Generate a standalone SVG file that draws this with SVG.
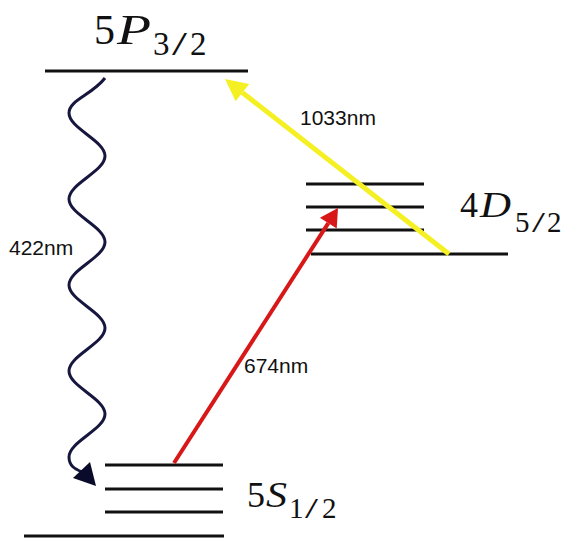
<svg xmlns="http://www.w3.org/2000/svg" width="564" height="538" viewBox="0 0 564 538">
<style>
.lvl{stroke:#111;stroke-width:3;fill:none}
.tex{font-family:"Liberation Serif","Times New Roman",serif;fill:#111}
.it{font-style:italic}
.nm{font-family:"Liberation Sans",Arial,sans-serif;font-size:21px;fill:#111}
</style>
<rect width="564" height="538" fill="#fff"/>
<g id="level-5P">
<line class="lvl" x1="45" y1="71" x2="248" y2="71"/>
<text class="tex" font-size="42"><tspan x="94" y="44">5</tspan><tspan class="it" x="117" y="44" textLength="34" lengthAdjust="spacingAndGlyphs">P</tspan></text>
<text class="tex" font-size="33"><tspan x="153" y="55">3</tspan><tspan x="172" y="55" textLength="15" lengthAdjust="spacingAndGlyphs">/</tspan><tspan x="190" y="55">2</tspan></text>
</g>
<g id="level-4D">
<line class="lvl" x1="306" y1="184" x2="424" y2="184"/>
<line class="lvl" x1="306" y1="207" x2="424" y2="207"/>
<line class="lvl" x1="306" y1="230" x2="424" y2="230"/>
<line class="lvl" x1="311" y1="254" x2="508" y2="254"/>
<text class="tex" font-size="36"><tspan x="460" y="217">4</tspan><tspan class="it" x="480" y="217" textLength="31" lengthAdjust="spacingAndGlyphs">D</tspan></text>
<text class="tex" font-size="29"><tspan x="515" y="232">5</tspan><tspan x="532" y="232" textLength="13" lengthAdjust="spacingAndGlyphs">/</tspan><tspan x="547" y="232">2</tspan></text>
</g>
<g id="level-5S">
<line class="lvl" x1="105" y1="465" x2="223" y2="465"/>
<line class="lvl" x1="105" y1="489" x2="223" y2="489"/>
<line class="lvl" x1="105" y1="512" x2="223" y2="512"/>
<line class="lvl" x1="24" y1="536" x2="224" y2="536"/>
<text class="tex" font-size="36"><tspan x="247" y="507">5</tspan><tspan class="it" x="266" y="507" textLength="21" lengthAdjust="spacingAndGlyphs">S</tspan></text>
<text class="tex" font-size="29"><tspan x="289" y="518">1</tspan><tspan x="305" y="518" textLength="13" lengthAdjust="spacingAndGlyphs">/</tspan><tspan x="322" y="518">2</tspan></text>
</g>
<g id="connectors">
<g id="decay-422">
<path d="M105,78 C92,95 69,100 69,113 C69,128.5 105,140.5 105,156 S69,183.5 69,199 S105,226.5 105,242 S69,269.5 69,285 S105,312.5 105,328 S69,355.5 69,371 S105,398.5 105,414 S69,441.5 69,457 C69,466 75,469 82,472" fill="none" stroke="#16163e" stroke-width="3"/>
<polygon points="96,486 73,478 90,462" fill="#0a0a2a"/>
<text class="nm" x="9" y="255">422nm</text>
</g>
<g id="drive-674">
<line x1="174" y1="463" x2="328.3" y2="223.1" stroke="#d81818" stroke-width="4"/>
<polygon points="338,208 319.9,217.7 336.7,228.5" fill="#d81818"/>
<text class="nm" x="244" y="373">674nm</text>
</g>
<g id="repump-1033">
<line x1="449" y1="254" x2="242.4" y2="92.6" stroke="#f5f023" stroke-width="5"/>
<polygon points="225,79 249.2,83.9 235.6,101.3" fill="#f5f023"/>
<text class="nm" x="300" y="125">1033nm</text>
</g>
</g>
</svg>
